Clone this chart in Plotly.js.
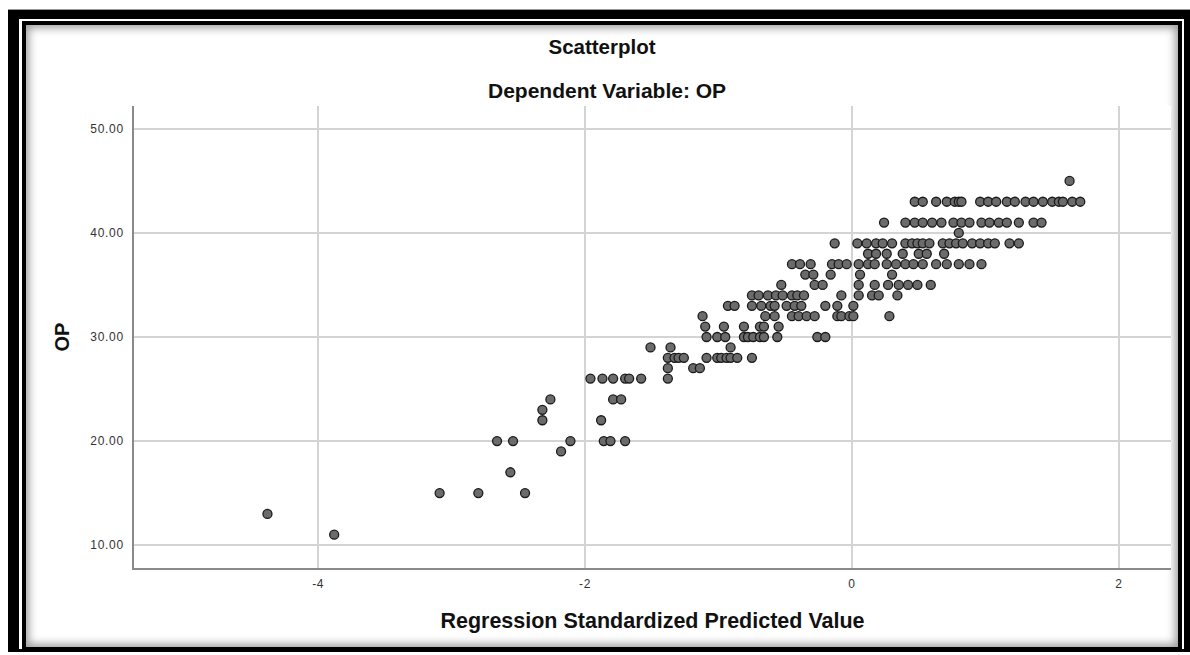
<!DOCTYPE html>
<html>
<head>
<meta charset="utf-8">
<script src="https://cdn.plot.ly/plotly-3.0.1.min.js"></script>
<style>
  html, body { margin: 0; padding: 0; background: #ffffff; }
  #wrap { position: relative; width: 1190px; height: 655px; background: #ffffff; overflow: hidden; }
  #outer { position: absolute; left: 8px; top: 10px; width: 1182px; height: 642px; box-sizing: border-box;
           border-style: solid; border-color: #000; border-width: 9px 6px 3px 11px; }
  #topline { position: absolute; left: 8px; top: 9px; width: 1182px; height: 1px; background: #999; }
  #inner { position: absolute; left: 22px; top: 21px; width: 1160px; height: 628px; box-sizing: border-box;
           border-style: solid; border-color: #000; border-width: 4px 4px 2px 4px;
           box-shadow: inset 0 0 9px 3px rgba(0,0,0,0.38); }
  #chart { position: absolute; left: 0; top: 0; width: 1190px; height: 655px; }
  #chart .xtick text, #chart .ytick text { letter-spacing: 0.7px; }
</style>
</head>
<body>
<div id="wrap">
  <div id="topline"></div>
  <div id="outer"></div>
  <div id="inner"></div>
  <div id="chart"></div>
</div>
<script>
// Regression standardized predicted values, grouped by observed OP value
const op45 = [1.63];
const op43 = [0.47, 0.53, 0.63, 0.71, 0.77, 0.80, 0.82, 0.96, 1.02, 1.08, 1.16, 1.22, 1.30, 1.36, 1.43, 1.50, 1.55, 1.58, 1.65, 1.71];
const op41 = [0.24, 0.40, 0.47, 0.53, 0.60, 0.67, 0.76, 0.82, 0.88, 0.97, 1.03, 1.10, 1.16, 1.25, 1.36, 1.42];
const op40 = [0.80];
const op39 = [-0.13, 0.04, 0.11, 0.18, 0.23, 0.30, 0.40, 0.45, 0.49, 0.53, 0.58, 0.68, 0.73, 0.78, 0.83, 0.90, 0.96, 1.02, 1.07, 1.18, 1.25];
const op38 = [0.12, 0.18, 0.26, 0.38, 0.50, 0.56, 0.69];
const op37 = [-0.45, -0.39, -0.31, -0.15, -0.10, -0.04, 0.05, 0.12, 0.17, 0.26, 0.33, 0.40, 0.46, 0.53, 0.63, 0.71, 0.80, 0.88, 0.97];
const op36 = [-0.35, -0.29, -0.16, 0.06, 0.30];
const op35 = [-0.53, -0.28, -0.22, 0.05, 0.17, 0.27, 0.35, 0.42, 0.49, 0.59];
const op34 = [-0.75, -0.70, -0.63, -0.57, -0.52, -0.45, -0.41, -0.36, -0.08, 0.05, 0.15, 0.20, 0.34];
const op33 = [-0.93, -0.88, -0.75, -0.68, -0.61, -0.58, -0.49, -0.43, -0.38, -0.20, -0.11, 0.01];
const op32 = [-1.12, -0.65, -0.58, -0.45, -0.40, -0.34, -0.28, -0.11, -0.08, -0.02, 0.01, 0.28];
const op31 = [-1.10, -0.96, -0.81, -0.69, -0.66, -0.55];
const op30 = [-1.09, -1.01, -0.95, -0.81, -0.78, -0.74, -0.69, -0.66, -0.56, -0.26, -0.20];
const op29 = [-1.51, -1.36, -0.91];
const op28 = [-1.38, -1.33, -1.30, -1.26, -1.09, -1.01, -0.98, -0.94, -0.91, -0.86, -0.75];
const op27 = [-1.38, -1.19, -1.14];
const op26 = [-1.96, -1.87, -1.79, -1.70, -1.67, -1.58, -1.38];
const op24 = [-2.26, -1.79, -1.73];
const op23 = [-2.32];
const op22 = [-2.32, -1.88];
const op20 = [-2.66, -2.54, -2.11, -1.86, -1.81, -1.70];
const op19 = [-2.18];
const op17 = [-2.56];
const op15 = [-3.09, -2.80, -2.45];
const op13 = [-4.38];
const op11 = [-3.88];

const opLevels = [45, 43, 41, 40, 39, 38, 37, 36, 35, 34, 33, 32, 31, 30, 29, 28, 27, 26, 24, 23, 22, 20, 19, 17, 15, 13, 11];
const predictedByLevel = [op45, op43, op41, op40, op39, op38, op37, op36, op35, op34, op33, op32, op31, op30, op29, op28, op27, op26, op24, op23, op22, op20, op19, op17, op15, op13, op11];

const yTickVals = [10, 20, 30, 40, 50];
const xTickVals = [-4, -2, 0, 2];

const xs = [], ys = [];
predictedByLevel.forEach((arr, i) => { arr.forEach(v => { xs.push(v); ys.push(opLevels[i]); }); });

const font = "Liberation Sans, Arial, sans-serif";

const trace = {
  type: 'scatter', mode: 'markers', x: xs, y: ys,
  marker: { symbol: 'circle', size: 9, color: '#6b6b6b', line: { color: '#1a1a1a', width: 1.3 } },
  hoverinfo: 'x+y'
};

const layout = {
  width: 1190, height: 655,
  paper_bgcolor: 'rgba(0,0,0,0)', plot_bgcolor: '#ffffff',
  margin: { l: 134, r: 19, t: 106, b: 87 },
  showlegend: false,
  title: { text: '<b>Scatterplot</b>', x: 602 / 1190, xref: 'container', xanchor: 'center',
           y: 1 - 47/655, yref: 'container', yanchor: 'middle',
           font: { family: font, size: 20.5, color: '#111' } },
  annotations: [{
    text: '<b>Dependent Variable: OP</b>', xref: 'paper', yref: 'paper',
    x: (607 - 134) / 1037, y: (568 - 90) / 462, xanchor: 'center', yanchor: 'middle',
    showarrow: false, font: { family: font, size: 21, color: '#111' }
  }],
  xaxis: {
    range: [-5.38, 2.39], tickvals: xTickVals, ticktext: xTickVals.map(String),
    showgrid: true, gridcolor: '#d4d4d4', gridwidth: 1.5, zeroline: false,
    showline: true, linecolor: '#8a8a8a', linewidth: 1.5, ticks: '',
    tickfont: { family: font, size: 12, color: '#333' }, ticklabelstandoff: 4,
    title: { text: '<b>Regression Standardized Predicted Value</b>', standoff: 23,
             font: { family: font, size: 21.5, color: '#111' } }
  },
  yaxis: {
    range: [7.8, 52.2], tickvals: yTickVals, tickformat: '.2f',
    showgrid: true, gridcolor: '#d4d4d4', gridwidth: 1.5, zeroline: false,
    showline: true, linecolor: '#8a8a8a', linewidth: 1.5, ticks: '',
    tickfont: { family: font, size: 12, color: '#333' }, ticklabelstandoff: 6,
    title: { text: '<b>OP</b>', standoff: 19, font: { family: font, size: 20, color: '#111' } }
  }
};

Plotly.newPlot('chart', [trace], layout, { displayModeBar: false, staticPlot: false });
</script>
</body>
</html>
